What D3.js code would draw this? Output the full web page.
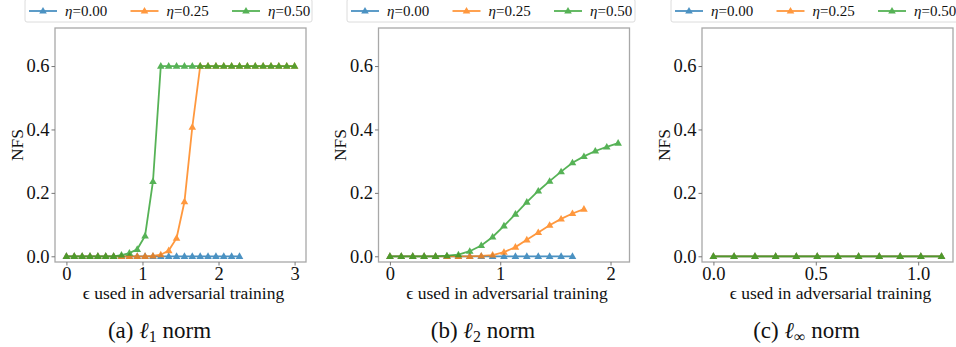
<!DOCTYPE html>
<html><head><meta charset="utf-8">
<script src="https://cdn.jsdelivr.net/npm/d3@7"></script>
<style>body{margin:0;background:#fff;} svg{display:block;}</style>
</head><body>
<svg id="chart" width="956" height="347"></svg>
<script>
// ---- data ----
const epsA = [0,0.103,0.207,0.310,0.414,0.517,0.621,0.724,0.828,0.931,1.034,1.138,1.241,1.345,1.448,1.552,1.655,1.759,1.862,1.966,2.069,2.172,2.276,2.379,2.483,2.586,2.690,2.793,2.897,3.0];
const epsC = [0,0.101,0.203,0.304,0.405,0.507,0.608,0.709,0.810,0.912,1.013,1.114];
const seriesNames = ["0.00","0.25","0.50"];
const colors = ["#1f77b4","#ff7f0e","#2ca02c"];

// l1 norm
const l1_eta000 = [0,0,0,0,0,0,0,0,0,0,0,0,0,0,0,0,0,0,0,0,0,0,0];
const l1_eta025 = [0,0,0,0,0,0,0,0,0,0,0,0.001,0.005,0.018,0.057,0.172,0.407,0.6,0.6,0.6,0.6,0.6,0.6,0.6,0.6,0.6,0.6,0.6,0.6,0.6];
const l1_eta050 = [0,0,0,0,0,0,0,0.004,0.01,0.022,0.064,0.236,0.6,0.6,0.6,0.6,0.6,0.6,0.6,0.6,0.6,0.6,0.6,0.6,0.6,0.6,0.6,0.6,0.6,0.6];
// l2 norm
const l2_eta000 = [0,0,0,0,0,0,0,0,0,0,0,0,0,0,0,0,0];
const l2_eta025 = [0,0,0,0,0,0,0,0,0.001,0.004,0.013,0.029,0.052,0.075,0.098,0.118,0.135,0.149];
const l2_eta050 = [0,0,0,0,0,0.002,0.005,0.016,0.034,0.061,0.096,0.133,0.171,0.206,0.237,0.267,0.295,0.315,0.332,0.345,0.357];
// l_inf norm
const linf_eta000 = [0,0,0,0,0,0,0,0,0,0,0,0];
const linf_eta025 = [0,0,0,0,0,0,0,0,0,0,0,0];
const linf_eta050 = [0,0,0,0,0,0,0,0,0,0,0,0];

const yTicks = [0.0,0.2,0.4,0.6];

const panels = [
  {left:55, xdom:[-0.15,3.15], xticks:[0,1,2,3], fmt:d3.format("d"), eps:epsA,
   series:[l1_eta000,l1_eta025,l1_eta050], letter:"(a) ", sub:"1", legL:25, legR:312},
  {left:378.5, xdom:[-0.1035,2.172], xticks:[0,1,2], fmt:d3.format("d"), eps:epsA,
   series:[l2_eta000,l2_eta025,l2_eta050], letter:"(b) ", sub:"2", legL:347, legR:635},
  {left:702, xdom:[-0.0557,1.170], xticks:[0,0.5,1.0], fmt:d3.format(".1f"), eps:epsC,
   series:[linf_eta000,linf_eta025,linf_eta050], letter:"(c) ", sub:"∞", legL:671, legR:962}
];

const svg = d3.select("#chart");
const W = 251, topY = 28, bottomY = 262;
const y = d3.scaleLinear().domain([-0.018,0.72]).range([bottomY, topY]);
const tri = "M0,-4L3.8,2.6L-3.8,2.6Z";

function styleText(sel, size) {
  sel.style("font-family", '"Liberation Serif"').style("font-size", size + "px").attr("fill", "#111");
}

panels.forEach(p => {
  const x = d3.scaleLinear().domain(p.xdom).range([p.left, p.left + W]);
  const g = svg.append("g");

  // legend
  const lg = g.append("g");
  lg.append("rect").attr("x", p.legL).attr("y", -1).attr("width", p.legR - p.legL).attr("height", 23)
    .attr("rx", 2).attr("fill", "#fff").attr("stroke", "#dcdcdc").attr("stroke-width", 1);
  seriesNames.forEach((nm, i) => {
    const lx = p.legL + 4 + i * 101.5;
    const it = lg.append("g").attr("opacity", 0.8);
    it.append("line").attr("x1", lx).attr("x2", lx + 28).attr("y1", 11).attr("y2", 11)
      .attr("stroke", colors[i]).attr("stroke-width", 1.8);
    it.append("path").attr("d", tri).attr("transform", `translate(${lx+14},11)`).attr("fill", colors[i]);
    const t = lg.append("text").attr("x", lx + 36).attr("y", 16);
    styleText(t, 15);
    t.append("tspan").style("font-style", "italic").text("η");
    t.append("tspan").text("=" + nm);
  });

  // frame
  g.append("rect").attr("x", p.left).attr("y", topY).attr("width", W).attr("height", bottomY - topY)
    .attr("fill", "none").attr("stroke", "#a8a8a8").attr("stroke-width", 1.3);

  // y axis
  const ya = g.append("g").attr("transform", `translate(${p.left},0)`)
    .call(d3.axisLeft(y).tickValues(yTicks).tickFormat(d3.format(".1f")).tickSize(3.5).tickPadding(2));
  ya.select(".domain").remove();
  ya.selectAll(".tick line").attr("stroke", "#777");
  styleText(ya.selectAll(".tick text"), 18.5);

  // x axis
  const xa = g.append("g").attr("transform", `translate(0,${bottomY})`)
    .call(d3.axisBottom(x).tickValues(p.xticks).tickFormat(p.fmt).tickSize(3.5).tickPadding(1.5));
  xa.select(".domain").remove();
  xa.selectAll(".tick line").attr("stroke", "#777");
  styleText(xa.selectAll(".tick text"), 18.5);

  // y label
  const yl = g.append("text").attr("transform", `translate(${p.left - 32.5},${(topY+bottomY)/2}) rotate(-90)`)
    .attr("text-anchor", "middle").text("NFS");
  styleText(yl, 17.5);

  // x label
  const xl = g.append("text").attr("x", p.left + W/2 + 3).attr("y", 299).attr("text-anchor", "middle")
    .text("ϵ used in adversarial training");
  styleText(xl, 17.5);

  // title
  const tt = g.append("text").attr("x", p.left + W/2 - 21).attr("y", 338).attr("text-anchor", "middle");
  styleText(tt, 23);
  tt.append("tspan").text(p.letter);
  tt.append("tspan").style("font-style", "italic").text("ℓ");
  tt.append("tspan").style("font-size", "16px").attr("dy", 4).text(p.sub);
  tt.append("tspan").attr("dy", -4).text(" norm");

  // series
  const line = d3.line().x((d, i) => x(p.eps[i])).y(d => y(d));
  p.series.forEach((vals, si) => {
    const sg = g.append("g").attr("opacity", 0.8);
    sg.append("path").datum(vals).attr("d", line).attr("fill", "none")
      .attr("stroke", colors[si]).attr("stroke-width", 1.8);
    sg.selectAll("path.m").data(vals).enter().append("path").attr("class", "m")
      .attr("d", tri).attr("transform", (d, i) => `translate(${x(p.eps[i])},${y(d)})`)
      .attr("fill", colors[si]);
  });
});
</script>
</body></html>
